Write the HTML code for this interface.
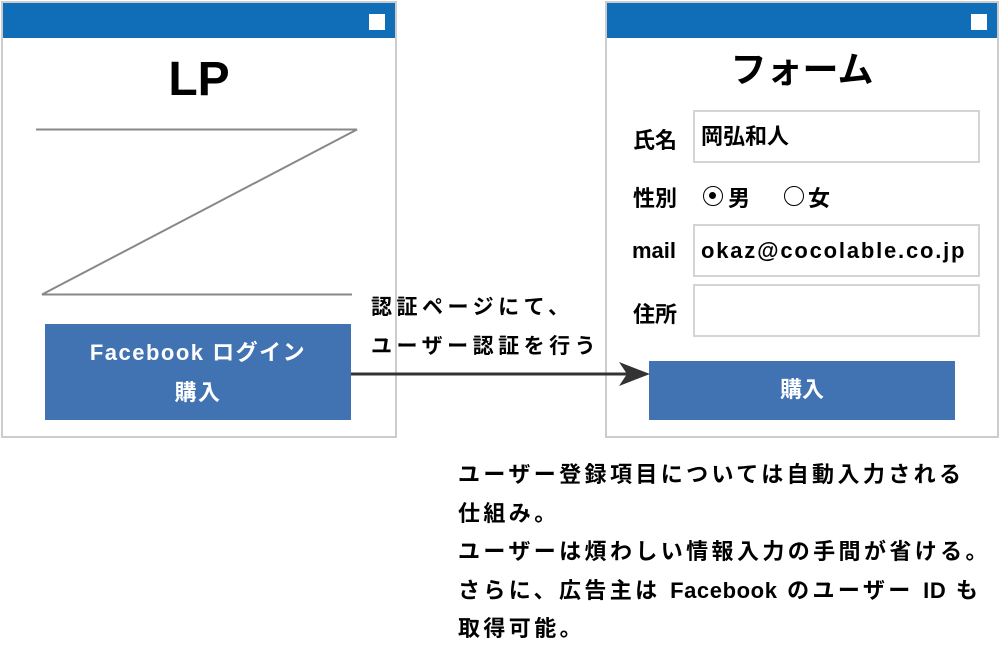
<!DOCTYPE html>
<html><head><meta charset="utf-8"><style>
body{margin:0;width:1000px;height:652px;background:#fff;position:relative;overflow:hidden;font-family:"Liberation Sans","Noto Sans CJK JP",sans-serif;font-weight:bold;color:#000}
.a{position:absolute}
.win{position:absolute;border:2px solid #ccc;background:#fff;box-sizing:border-box}
.bar{position:absolute;left:0;right:0;top:0;height:35px;background:#106eb8}
.sq{position:absolute;right:10px;top:11px;width:16px;height:16px;background:#fff}
.btn{position:absolute;background:#4173b3;color:#fff;text-align:center;font-size:22px}
.inp{position:absolute;border:2px solid #d4d4d4;box-sizing:border-box;font-size:22px;padding-left:6px;line-height:50px}
.lbl{position:absolute;font-size:22px}
.t{position:absolute;font-size:22px;line-height:38.5px;white-space:nowrap;letter-spacing:3.4px}
.l{letter-spacing:0.6px}
.rc{position:absolute;width:20px;height:20px;border:1.5px solid #000;border-radius:50%;box-sizing:border-box}
</style></head><body>
<div class="win" style="left:1px;top:1px;width:396px;height:437px"><div class="bar"></div><div class="sq"></div></div>
<div class="a" style="left:0;width:398px;top:52px;text-align:center;font-size:48px;line-height:56px">LP</div>
<div class="btn" style="left:45px;top:324px;width:306px;height:96px;line-height:40px;padding-top:9px;box-sizing:border-box;letter-spacing:1.5px">Facebook ログイン<br>購入</div>
<div class="t" style="left:371px;top:289px;font-size:21px;letter-spacing:4.5px">認証ページにて、<br>ユーザー認証を行う</div>

<div class="win" style="left:605px;top:1px;width:394px;height:437px"><div class="bar"></div><div class="sq"></div></div>
<div class="a" style="left:607px;width:390px;top:48px;text-align:center;font-size:36px;line-height:44px">フォーム</div>
<div class="lbl" style="left:633px;top:123px">氏名</div>
<div class="inp" style="left:693px;top:110px;width:287px;height:53px">岡弘和人</div>
<div class="lbl" style="left:633px;top:181px">性別</div>
<div class="rc" style="left:703px;top:186px"><div style="position:absolute;left:5px;top:5px;width:7px;height:7px;border-radius:50%;background:#000"></div></div>
<div class="lbl" style="left:728px;top:181px">男</div>
<div class="rc" style="left:784px;top:186px"></div>
<div class="lbl" style="left:808px;top:181px">女</div>
<div class="lbl" style="left:632px;top:238px">mail</div>
<div class="inp" style="left:693px;top:224px;width:287px;height:53px;letter-spacing:1.8px">okaz@cocolable.co.jp</div>
<div class="lbl" style="left:633px;top:297px">住所</div>
<div class="inp" style="left:693px;top:284px;width:287px;height:53px"></div>
<div class="btn" style="left:649px;top:361px;width:306px;height:59px;line-height:58px">購入</div>

<svg class="a" style="left:0;top:0" width="1000" height="652">
<polyline points="36,129.5 357,129.5 42,294.5 352,294.5" fill="none" stroke="#888" stroke-width="2"/>
<line x1="351" y1="374" x2="630" y2="374" stroke="#333" stroke-width="3"/>
<polygon points="650,374 619,362 627,374 619,386" fill="#333"/>
</svg>

<div class="t" style="left:458px;top:456px">ユーザー登録項目については自動入力される<br>仕組み。<br>ユーザーは煩わしい情報入力の手間が省ける。<br>さらに、広告主は <span class="l">Facebook</span> のユーザー <span class="l">ID</span> も<br>取得可能。</div>
</body></html>
